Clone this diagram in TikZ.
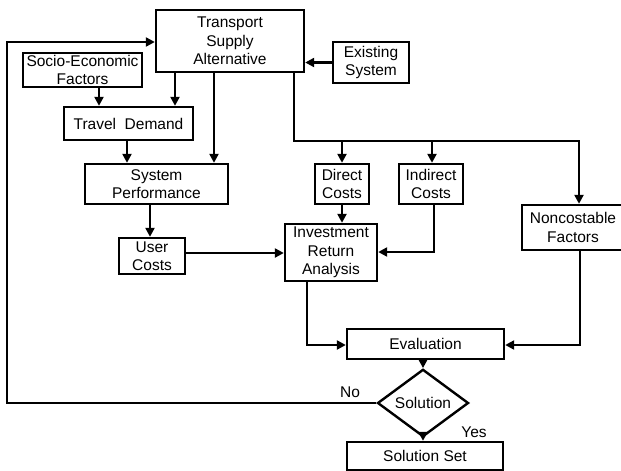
\documentclass[tikz,border=0pt]{standalone}
\usepackage{fontspec}
\setmainfont{Liberation Sans}
\usetikzlibrary{arrows.meta,shapes.geometric}
\begin{document}
\begin{tikzpicture}[x=1pt,y=-1pt,
  box/.style={draw,line width=2.4pt,rectangle,inner sep=0pt,align=center,
    font=\fontsize{15.5}{18.5}\selectfont},
  lbl/.style={font=\fontsize{15.5}{18.5}\selectfont,inner sep=0pt},
  conn/.style={line width=2.4pt,-{Triangle[length=9pt,width=9pt]}},
  plain/.style={line width=2.4pt}]
\useasboundingbox (0,0) rectangle (621,471);
\node[box,minimum width=148pt,minimum height=62pt] (tsa) at (230,41) {Transport\\Supply\\Alternative};
\node[box,minimum width=119pt,minimum height=34pt] (soc) at (82.5,70) {Socio-Economic\\Factors};
\node[box,minimum width=129pt,minimum height=33pt] (td) at (128.5,123.5) {Travel \ Demand};
\node[box,minimum width=143pt,minimum height=40pt] (sp) at (156.5,184) {System\\Performance};
\node[box,minimum width=76pt,minimum height=41pt] (es) at (371,62.5) {Existing\\System};
\node[box,minimum width=54pt,minimum height=40pt] (dc) at (342,184) {Direct\\Costs};
\node[box,minimum width=64pt,minimum height=40pt] (ic) at (431,184) {Indirect\\Costs};
\node[box,minimum width=102pt,minimum height=45pt] (nf) at (573,227.5) {Noncostable\\Factors};
\node[box,minimum width=66pt,minimum height=36pt] (uc) at (152,256) {User\\Costs};
\node[box,minimum width=92pt,minimum height=57pt] (inv) at (331,252.5) {Investment\\Return\\Analysis};
\node[box,minimum width=157pt,minimum height=30pt] (ev) at (425.5,344) {Evaluation};
\node[box,diamond,minimum width=91pt,minimum height=49pt,inner sep=0pt] (sol) at (423,403) {Solution};
\node[box,minimum width=156pt,minimum height=28pt] (ss) at (425,456) {Solution Set};
\node[lbl] (no) at (350,392) {No};
\node[lbl] (yes) at (474,432) {Yes};
\coordinate (fbl) at (7,403);
\coordinate (fbt) at (7,42);
\coordinate (br) at (294,141);
\coordinate (brr) at (579,141);
% feedback
\draw[conn] (sol.west) -- (fbl) -- (fbt) -- (fbt -| tsa.west);
% left column
\draw[conn] (soc.south -| 99,0) -- (td.north -| 99,0);
\draw[conn] (tsa.south -| 175,0) -- (td.north -| 175,0);
\draw[conn] (tsa.south -| 214,0) -- (sp.north -| 214,0);
\draw[conn] (td.south -| 127,0) -- (sp.north -| 127,0);
\draw[conn] (sp.south -| 150,0) -- (uc.north -| 150,0);
\draw[conn] (es.west) -- (es.west -| tsa.east);
% branch
\draw[conn] (tsa.south -| br) -- (br) -- (brr) -- (nf.north -| brr);
\draw[conn] (br -| dc.north) -- (dc.north);
\draw[conn] (br -| 432,0) -- (ic.north -| 432,0);
\draw[conn] (dc.south) -- (inv.north -| dc.south);
\draw[conn] (ic.south -| 434,0) -- (434,252) -- (inv.east |- 0,252);
\draw[conn] (uc.east |- 0,253) -- (inv.west |- 0,253);
\draw[conn] (inv.south -| 307,0) -- (307,345) -- (ev.west |- 0,345);
\draw[conn] (nf.south -| 580,0) -- (580,345) -- (ev.east |- 0,345);
\draw[conn] (ev.south -| sol.north) -- (sol.north);
\draw[conn] (sol.south) -- (ss.north -| sol.south);
\end{tikzpicture}
\end{document}
